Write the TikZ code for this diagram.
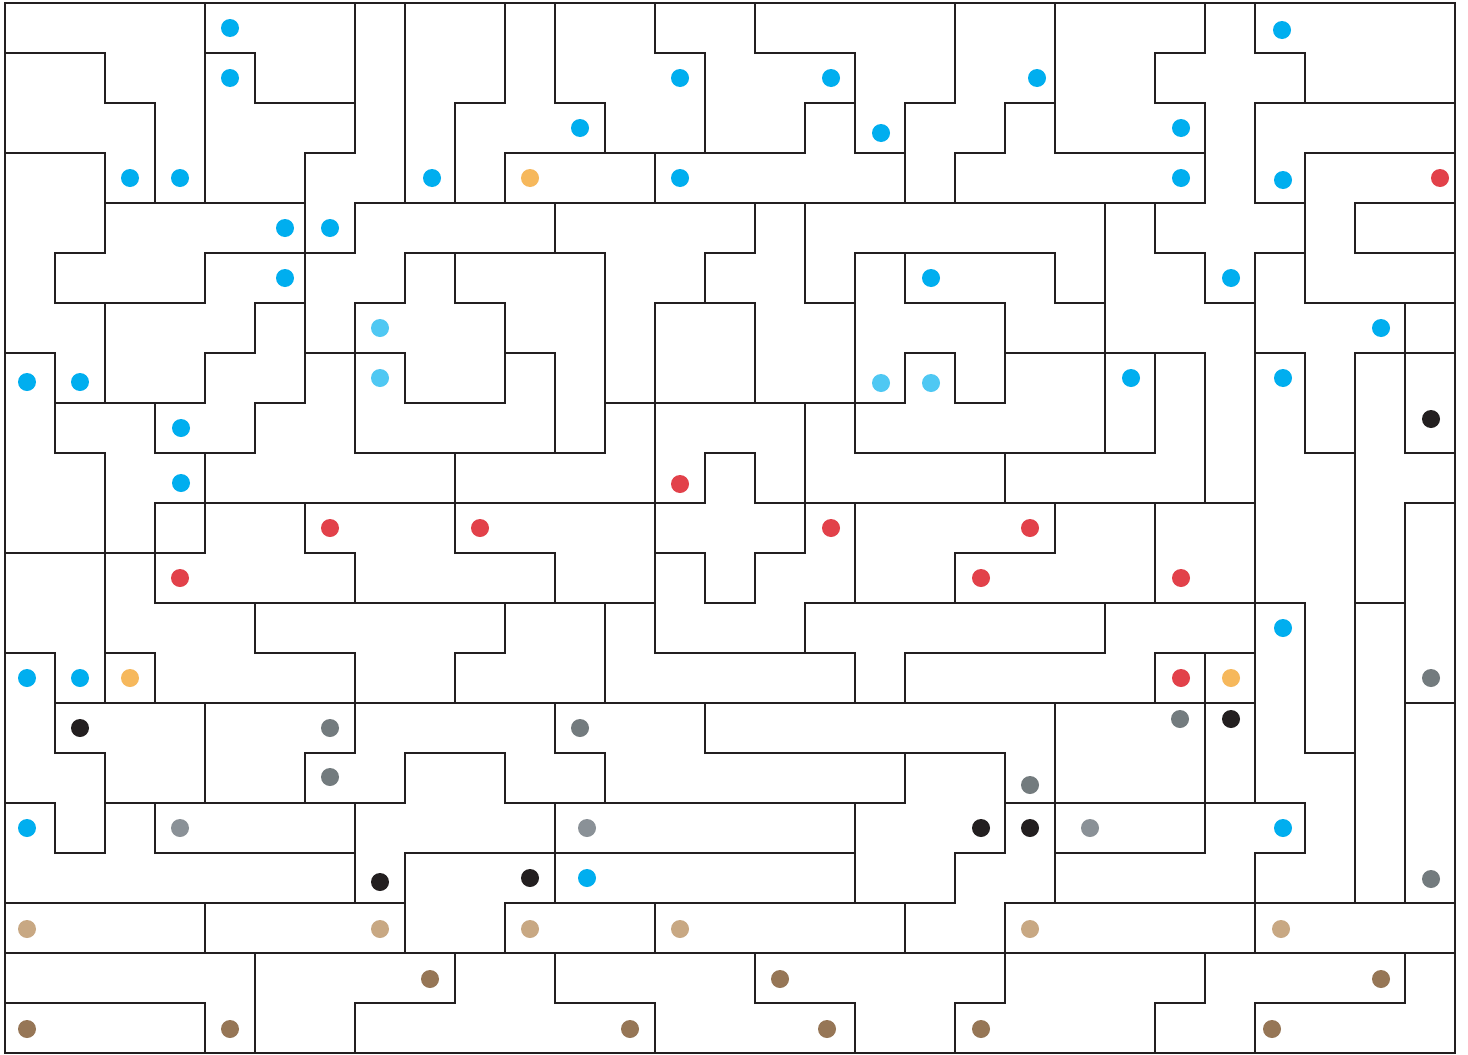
\documentclass[tikz,border=0pt]{standalone}
\usepackage{xcolor}
\definecolor{wall}{HTML}{231F20}
\definecolor{cblue}{HTML}{00AEEF}
\definecolor{clblue}{HTML}{4FC8F3}
\definecolor{corange}{HTML}{F6B85C}
\definecolor{cred}{HTML}{E2414A}
\definecolor{cblack}{HTML}{231F20}
\definecolor{cgray}{HTML}{737B7E}
\definecolor{clgray}{HTML}{8A9197}
\definecolor{ctan}{HTML}{C8A883}
\definecolor{cbrown}{HTML}{967656}
\begin{document}
\begin{tikzpicture}[x=1pt,y=-1pt,
  wallline/.style={draw=wall,line width=2pt,line cap=rect},
  dotmark/.style={fill=#1}]
\useasboundingbox (0,0) rectangle (1468,1055);
\fill[white] (0,0) rectangle (1468,1055);
% horizontal walls: row j, from column a to column b
\foreach \j/\a/\b in {
 1/0/2, 1/4/5, 1/13/14, 1/15/17, 1/23/24, 1/25/26,
 2/2/3, 2/5/7, 2/9/10, 2/11/12, 2/16/17, 2/18/19, 2/20/21, 2/23/24, 2/25/29,
 3/0/2, 3/6/7, 3/10/16, 3/17/18, 3/19/20, 3/21/24, 3/26/29,
 4/2/6, 4/7/24, 4/25/26, 4/27/29,
 5/1/2, 5/4/7, 5/8/12, 5/14/15, 5/17/21, 5/23/24, 5/25/26, 5/27/29,
 6/1/4, 6/5/6, 6/7/8, 6/9/10, 6/13/15, 6/16/17, 6/18/20, 6/21/22, 6/24/25, 6/26/29,
 7/0/1, 7/4/5, 7/6/8, 7/10/11, 7/18/19, 7/20/24, 7/25/26, 7/27/29,
 8/1/4, 8/5/6, 8/8/10, 8/12/18, 8/19/20,
 9/1/2, 9/3/5, 9/7/12, 9/14/15, 9/17/23, 9/26/27, 9/28/29,
 10/3/14, 10/15/25, 10/28/29,
 11/0/4, 11/6/7, 11/9/11, 11/13/14, 11/15/16, 11/19/21,
 12/3/13, 12/14/15, 12/16/26, 12/27/28,
 13/0/1, 13/2/3, 13/5/7, 13/9/10, 13/13/17, 13/18/22, 13/23/25,
 14/1/25, 14/28/29,
 15/1/2, 15/6/7, 15/8/10, 15/11/12, 15/14/20, 15/26/27,
 16/0/1, 16/2/8, 16/10/18, 16/20/26,
 17/1/2, 17/3/7, 17/8/17, 17/19/20, 17/21/24, 17/25/26,
 18/0/8, 18/10/19, 18/20/29,
 19/0/29,
 20/0/4, 20/7/9, 20/11/13, 20/15/17, 20/19/20, 20/23/24, 20/25/28}
 \draw[wallline] ({5+50*\a},{3+50*\j}) -- ({5+50*\b},{3+50*\j});
% vertical walls: column i, from row a to row b
\foreach \i/\a/\b in {
 1/5/6, 1/7/9, 1/13/15, 1/16/17,
 2/1/2, 2/3/5, 2/6/8, 2/9/14, 2/15/17,
 3/2/4, 3/8/9, 3/10/12, 3/13/14, 3/16/17,
 4/0/4, 4/5/6, 4/7/8, 4/9/11, 4/14/16, 4/18/19, 4/20/21,
 5/1/2, 5/6/7, 5/8/9, 5/12/13, 5/19/21,
 6/3/8, 6/10/11, 6/15/16,
 7/0/3, 7/4/5, 7/6/9, 7/11/12, 7/13/15, 7/16/18, 7/20/21,
 8/0/4, 8/5/6, 8/7/8, 8/15/16, 8/17/19,
 9/2/4, 9/5/6, 9/9/11, 9/13/14, 9/19/20,
 10/0/2, 10/3/4, 10/6/8, 10/12/13, 10/15/16, 10/18/19,
 11/0/2, 11/4/5, 11/7/9, 11/11/12, 11/14/15, 11/16/18, 11/19/20,
 12/2/3, 12/5/9, 12/12/14, 12/15/16,
 13/0/1, 13/3/4, 13/6/13, 13/18/19, 13/20/21,
 14/1/3, 14/5/6, 14/9/10, 14/11/12, 14/14/15,
 15/0/1, 15/4/5, 15/6/8, 15/9/10, 15/11/12, 15/19/20,
 16/2/3, 16/4/6, 16/8/11, 16/12/13,
 17/1/3, 17/5/9, 17/10/12, 17/13/14, 17/16/18, 17/20/21,
 18/2/4, 18/5/6, 18/7/8, 18/13/14, 18/15/16, 18/18/19,
 19/0/2, 19/3/4, 19/7/8, 19/11/12, 19/17/18, 19/20/21,
 20/2/3, 20/6/8, 20/9/10, 20/15/17, 20/18/20,
 21/0/3, 21/5/6, 21/10/11, 21/14/18,
 22/4/9, 22/12/13,
 23/1/2, 23/4/5, 23/7/9, 23/10/12, 23/13/14, 23/20/21,
 24/0/1, 24/2/4, 24/5/6, 24/7/10, 24/13/17, 24/19/20,
 25/0/1, 25/2/4, 25/5/16, 25/17/19, 25/20/21,
 26/1/2, 26/3/6, 26/7/9, 26/12/15, 26/16/17,
 27/4/5, 27/7/18,
 28/6/9, 28/10/18, 28/19/20}
 \draw[wallline] ({5+50*\i},{3+50*\a}) -- ({5+50*\i},{3+50*\b});
% outer border
\draw[wallline,line join=miter] (5,3) rectangle (1455,1053);
% dots
\foreach \x/\y in {230/28, 230/78, 130/178, 180/178, 285/228, 330/228, 285/278,
 432/178, 580/128, 680/78, 680/178, 831/78, 881/133, 1037/78, 931/278,
 1282/30, 1181/128, 1181/178, 1283/180, 1231/278, 1381/328,
 27/382, 80/382, 181/428, 181/483, 27/678, 80/678,
 1131/378, 1283/378, 1283/628, 27/828, 587/878, 1283/828}
 \fill[dotmark=cblue] (\x,\y) circle (9pt);
\foreach \x/\y in {380/328, 380/378, 881/383, 931/383}
 \fill[dotmark=clblue] (\x,\y) circle (9pt);
\foreach \x/\y in {530/178, 130/678, 1231/678}
 \fill[dotmark=corange] (\x,\y) circle (9pt);
\foreach \x/\y in {1440/178, 330/528, 480/528, 180/578, 680/484, 831/528,
 1030/528, 981/578, 1181/578, 1181/678}
 \fill[dotmark=cred] (\x,\y) circle (9pt);
\foreach \x/\y in {1431/419, 80/728, 380/882, 530/878, 981/828, 1030/828, 1231/719}
 \fill[dotmark=cblack] (\x,\y) circle (9pt);
\foreach \x/\y in {330/728, 330/777, 580/728, 1030/785, 1431/678, 1180/719, 1431/879}
 \fill[dotmark=cgray] (\x,\y) circle (9pt);
\foreach \x/\y in {180/828, 587/828, 1090/828}
 \fill[dotmark=clgray] (\x,\y) circle (9pt);
\foreach \x/\y in {27/929, 380/929, 530/929, 680/929, 1030/929, 1281/929}
 \fill[dotmark=ctan] (\x,\y) circle (9pt);
\foreach \x/\y in {27/1029, 230/1029, 430/979, 630/1029, 780/979, 827/1029,
 981/1029, 1381/979, 1272/1029}
 \fill[dotmark=cbrown] (\x,\y) circle (9pt);
\end{tikzpicture}
\end{document}
